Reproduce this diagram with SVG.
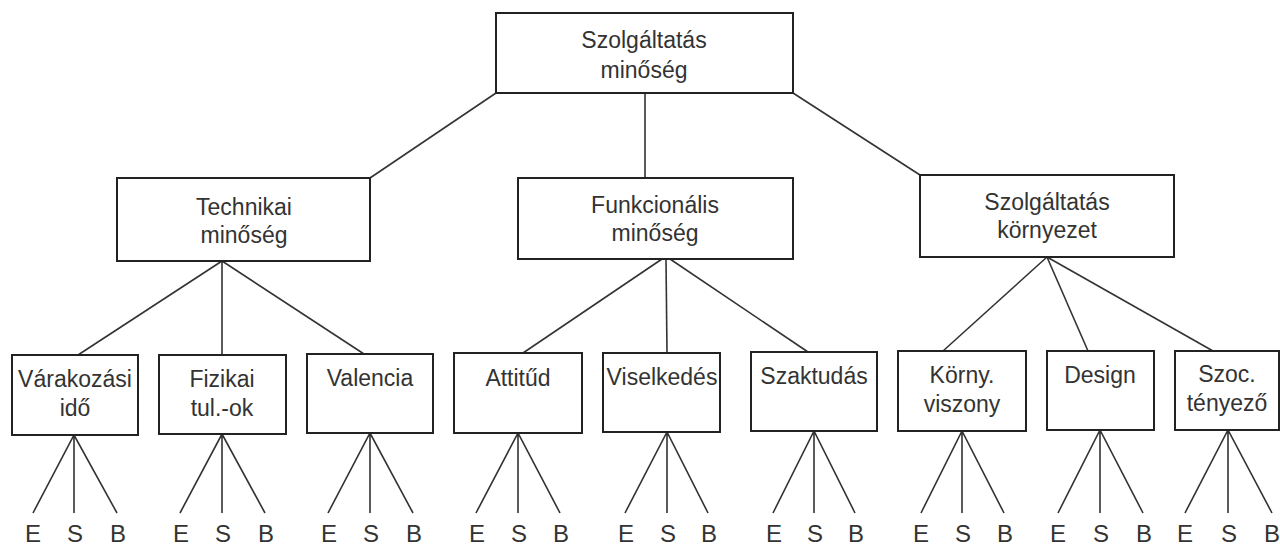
<svg xmlns="http://www.w3.org/2000/svg" width="1280" height="545" viewBox="0 0 1280 545">
<style>
.box{fill:#fff;stroke:#222;stroke-width:2}
.t{font-family:"Liberation Sans",Arial,sans-serif;font-size:23px;fill:#333;text-anchor:middle}
.l{font-size:24px}
.c{stroke:#333;stroke-width:1.6;fill:none}
</style>
<rect width="1280" height="545" fill="#fff"/>
<g id="connectors" class="c">
<line x1="496" y1="93" x2="370" y2="178"/>
<line x1="645" y1="93" x2="645" y2="178"/>
<line x1="793" y1="93" x2="920" y2="175"/>
<line x1="222" y1="261" x2="78" y2="355"/>
<line x1="222" y1="261" x2="222" y2="355"/>
<line x1="222" y1="261" x2="364" y2="354"/>
<line x1="662" y1="259" x2="523" y2="353"/>
<line x1="666" y1="259" x2="667" y2="353"/>
<line x1="670" y1="259" x2="808" y2="352"/>
<line x1="1047" y1="257" x2="943" y2="351"/>
<line x1="1047" y1="257" x2="1088" y2="351"/>
<line x1="1047" y1="257" x2="1213" y2="351"/>
<path d="M33,513L74,435L117,513M74,435V513"/>
<path d="M180,513L222,434L265,513M222,434V513"/>
<path d="M328,513L370,433L413,513M370,433V513"/>
<path d="M476,513L518,433L560,513M518,433V513"/>
<path d="M625,513L667,432L708,513M667,432V513"/>
<path d="M773,513L814,431L855,513M814,431V513"/>
<path d="M921,513L962,431L1004,513M962,431V513"/>
<path d="M1058,513L1100,430L1143,513M1100,430V513"/>
<path d="M1185,513L1228,430L1272,513M1228,430V513"/>
</g>
<g id="root"><rect class="box" x="496" y="13" width="297" height="80"/><text class="t" x="644" y="48">Szolgáltatás</text><text class="t" x="644" y="78">minőség</text></g>
<g id="technikai"><rect class="box" x="117" y="178" width="253" height="83"/><text class="t" x="244" y="215">Technikai</text><text class="t" x="244" y="243">minőség</text></g>
<g id="funkcionalis"><rect class="box" x="518" y="178" width="275" height="81"/><text class="t" x="655" y="213">Funkcionális</text><text class="t" x="655" y="241">minőség</text></g>
<g id="kornyezet"><rect class="box" x="920" y="175" width="254" height="82"/><text class="t" x="1047" y="210">Szolgáltatás</text><text class="t" x="1047" y="238">környezet</text></g>
<g id="varakozasi"><rect class="box" x="12" y="355" width="126" height="80"/><text class="t" x="75" y="387">Várakozási</text><text class="t" x="75" y="416">idő</text></g>
<g id="fizikai"><rect class="box" x="159" y="355" width="127" height="79"/><text class="t" x="222" y="387">Fizikai</text><text class="t" x="222" y="416">tul.-ok</text></g>
<g id="valencia"><rect class="box" x="307" y="354" width="126" height="79"/><text class="t" x="370" y="386">Valencia</text></g>
<g id="attitud"><rect class="box" x="454" y="353" width="128" height="80"/><text class="t" x="518" y="386">Attitűd</text></g>
<g id="viselkedes"><rect class="box" x="603" y="353" width="117" height="79"/><text class="t" x="662" y="385">Viselkedés</text></g>
<g id="szaktudas"><rect class="box" x="751" y="352" width="126" height="79"/><text class="t" x="814" y="384">Szaktudás</text></g>
<g id="korny"><rect class="box" x="898" y="351" width="128" height="80"/><text class="t" x="962" y="383">Körny.</text><text class="t" x="962" y="412">viszony</text></g>
<g id="design"><rect class="box" x="1047" y="351" width="107" height="79"/><text class="t" x="1100" y="383">Design</text></g>
<g id="szoc"><rect class="box" x="1175" y="351" width="104" height="79"/><text class="t" x="1227" y="382">Szoc.</text><text class="t" x="1227" y="411">tényező</text></g>
<g id="leaves" class="t l">
<text x="33" y="542">E</text><text x="75" y="542">S</text><text x="118" y="542">B</text>
<text x="181" y="542">E</text><text x="223" y="542">S</text><text x="266" y="542">B</text>
<text x="329" y="542">E</text><text x="371" y="542">S</text><text x="414" y="542">B</text>
<text x="477" y="542">E</text><text x="519" y="542">S</text><text x="561" y="542">B</text>
<text x="626" y="542">E</text><text x="668" y="542">S</text><text x="709" y="542">B</text>
<text x="774" y="542">E</text><text x="815" y="542">S</text><text x="856" y="542">B</text>
<text x="921" y="542">E</text><text x="963" y="542">S</text><text x="1005" y="542">B</text>
<text x="1058" y="542">E</text><text x="1101" y="542">S</text><text x="1144" y="542">B</text>
<text x="1185" y="542">E</text><text x="1229" y="542">S</text><text x="1272" y="542">B</text>
</g>
</svg>
